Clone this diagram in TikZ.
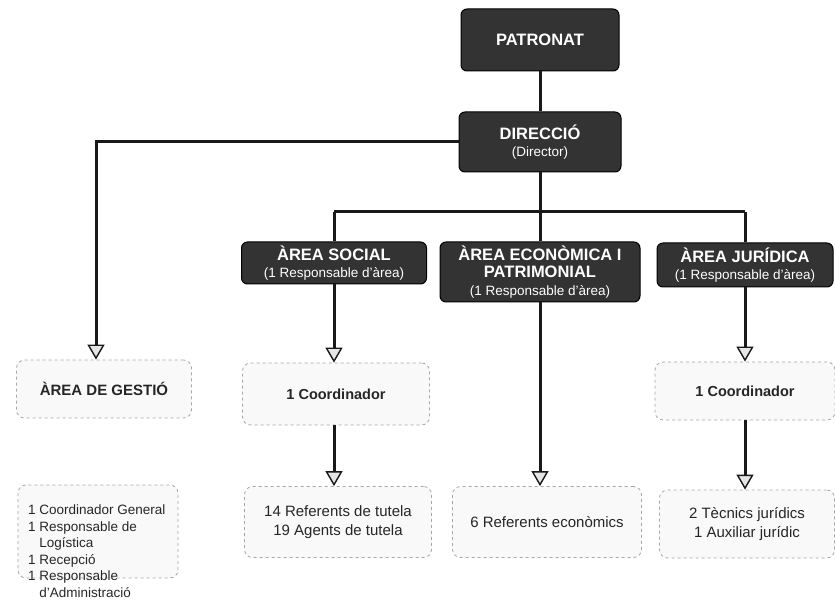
\documentclass[tikz,border=0pt]{standalone}
\usepackage{fontspec}
\setmainfont{Liberation Sans}
\usetikzlibrary{positioning}
\usetikzlibrary{arrows.meta}

\tikzset{
  fosc/.style={draw=black, line width=1pt, fill=black!80, rounded corners=6pt, text=white, align=center, font=\bfseries\fontsize{16.5}{17.5}\selectfont, inner sep=0pt},
  clar/.style={draw=gray!70, dashed, line width=0.8pt, fill=gray!5, rounded corners=8pt, text=black!85, align=center, inner sep=0pt},
  linia/.style={line width=3pt, black!90},
  fletxa/.style={linia, -{Triangle[width=17pt,length=15pt,fill=gray!20,line width=1.4pt]}},
}
\newcommand{\subtitol}[1]{{\mdseries\fontsize{13.5}{15}\selectfont #1}}

\begin{document}
\begin{tikzpicture}[x=1pt, y=-1pt]
\useasboundingbox (0,0) rectangle (835,601);

%dark boxes
\node[fosc, minimum width=158, minimum height=62](patronat) at (540,40){PATRONAT};
\node[fosc, minimum width=162, minimum height=60](direccio) at (540,142){DIRECCIÓ\\\subtitol{(Director)}};
\node[fosc, minimum width=185, minimum height=42](social) at (334,263){ÀREA SOCIAL\\\subtitol{(1 Responsable d'àrea)}};
\node[fosc, minimum width=200, minimum height=60](economica) at (540,272){ÀREA ECONÒMICA I\\PATRIMONIAL\\\subtitol{(1 Responsable d'àrea)}};
\node[fosc, minimum width=176, minimum height=44](juridica) at (745,265){ÀREA JURÍDICA\\\subtitol{(1 Responsable d'àrea)}};

%light boxes
\node[clar, minimum width=175, minimum height=58, font=\bfseries\fontsize{15}{17}\selectfont](gestio) at (104,389){ÀREA DE GESTIÓ};
\node[clar, minimum width=187, minimum height=62, font=\bfseries\fontsize{14.5}{17}\selectfont](coordsocial) at (336,394){1 Coordinador};
\node[clar, minimum width=180, minimum height=58, font=\bfseries\fontsize{14.5}{17}\selectfont](coordjuridica) at (745,391){1 Coordinador};
\node[clar, minimum width=187, minimum height=71, font=\fontsize{15}{19}\selectfont](refsocial) at (338,522){14 Referents de tutela\\19 Agents de tutela};
\node[clar, minimum width=189, minimum height=71, font=\fontsize{15}{19}\selectfont](refeconomica) at (547,522){6 Referents econòmics};
\node[clar, minimum width=175, minimum height=68, font=\fontsize{15}{19}\selectfont](refjuridica) at (747,524){2 Tècnics jurídics\\1 Auxiliar jurídic};

%gestio list
\draw[clar] (18,485) rectangle (178,578);
\node[anchor=north west, inner sep=0pt, text=black!85, font=\fontsize{13.5}{16.5}\selectfont](llistagestio) at (28,503){%
\begin{tabular}{@{}l@{\ }l@{}}
1 & Coordinador General\\
1 & Responsable de\\
  & Logística\\
1 & Recepció\\
1 & Responsable\\
  & d'Administració
\end{tabular}};

%connectors
\coordinate (gir) at (96,142);
\coordinate (bus) at (540,212);
\draw[linia] (patronat.south) -- (direccio.north);
\draw[fletxa] (direccio.west) -- (gir) -- (gir |- gestio.north);
\draw[linia] (direccio.south) -- (bus);
\draw[linia] (social.north |- bus) -- (juridica.north |- bus);
\draw[linia] (social.north |- bus) -- (social.north);
\draw[linia] (economica.north |- bus) -- (economica.north);
\draw[linia] (juridica.north |- bus) -- (juridica.north);
\draw[fletxa] (social.south) -- (social.south |- coordsocial.north);
\draw[fletxa] (coordsocial.south -| social.south) -- (social.south |- refsocial.north);
\draw[fletxa] (economica.south) -- (economica.south |- refeconomica.north);
\draw[fletxa] (juridica.south) -- (juridica.south |- coordjuridica.north);
\draw[fletxa] (coordjuridica.south) -- (coordjuridica.south |- refjuridica.north);

\end{tikzpicture}
\end{document}
